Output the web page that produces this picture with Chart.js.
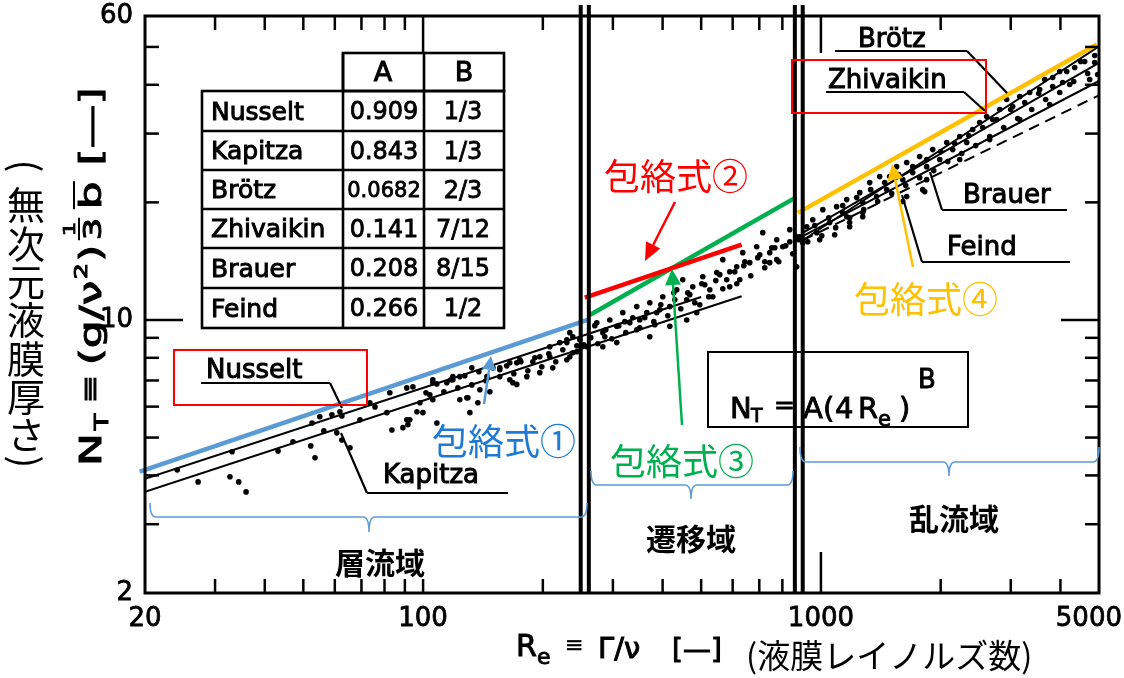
<!DOCTYPE html>
<html lang="ja">
<head>
<meta charset="utf-8">
<title>液膜厚さ相関</title>
<script src="https://cdn.jsdelivr.net/npm/chart.js@4.4.1/dist/chart.umd.min.js"></script>
<style>
html,body{margin:0;padding:0;background:#fff;overflow:hidden;}
#box{width:1124px;height:678px;}
canvas{display:block;}
</style>
</head>
<body>
<div id="box"><canvas id="chart" width="1124" height="678"></canvas></div>
<script>
// ---------------- data ----------------
const xTickLabels = [20, 100, 1000, 5000];
const yTickLabels = [2, 10, 60];
const xShortTicksBottom = [30,40,50,60,70,80,90,100,200,300,400,500,600,700,800,900,2000,3000,4000];
const xShortTicksTop = [30,40,50,60,70,80,90,200,300,400,500,600,700,800,900,2000,3000,4000];
const xLongTicksBottom = [1000];
const xLongTicksTop = [100, 1000];
const yShortTicks = [3,4,5,6,7,8,9,20,30,40,50];
const yLongTicks = [10];
const regionBoundsRe = [249, 261, 860, 900];
const regionNames = ['層流域', '遷移域', '乱流域'];
const envelopeNames = ['包絡式①', '包絡式②', '包絡式③', '包絡式④'];
const tableNames = ['Nusselt', 'Kapitza', 'Brötz', 'Zhivaikin', 'Brauer', 'Feind'];
const tableA = ['0.909', '0.843', '0.0682', '0.141', '0.208', '0.266'];
const tableB = ['1/3', '1/3', '2/3', '7/12', '8/15', '1/2'];

// experimental points
const laminarRe = [24.1,33.1,27.2,32.7,34.4,35.9,43.2,47.1,52.6,52.2,53.5,55.0,56.3,59.0,61.8,62.5,60.7,62.5,65.5,69.4,73.5,75.7,81.1,82.5,83.5,89.0,91.6,96.5,99.9,91.0,94.3,101.7,105.8,105.8,108.3,131.1,128.8,147.2,137.3,92.6,118.8,123.7,155.9,172.0,188.7,208.2,229.8,237.9,165.2,182.3,172.0,129.6,138.9,132.6,144.7,155.9,165.2,175.1,196.5,208.2,220.6,229.8,237.9,168.1,196.5,211.8,229.8,243.4,105.8,114.7,118.8,98.2,91.0,123.7,
  104.0,108.3,112.8,117.5,122.3,127.3,132.6,138.1,143.8,149.8,155.9,162.3,169.1,176.1,183.4,191.0,198.8,207.0,215.5,224.5,233.8,243.5];
const laminarNt = [4.13,4.60,3.85,3.97,3.85,3.63,4.62,4.88,5.45,4.76,4.44,5.65,5.20,5.72,5.82,5.68,5.14,4.93,4.71,5.55,6.14,5.99,5.79,6.51,5.23,5.30,5.39,5.82,5.79,6.70,6.74,6.51,6.25,6.91,5.45,5.79,6.32,6.55,6.14,5.55,7.03,7.16,7.46,7.77,7.82,8.05,8.75,8.24,7.03,7.16,6.84,6.32,6.63,7.54,7.16,7.54,7.77,7.91,8.05,8.54,8.75,8.90,9.06,6.91,7.33,7.54,7.91,8.29,7.03,6.91,7.16,6.14,5.55,6.25,
  6.43,6.86,6.55,7.03,6.70,7.20,6.82,7.37,6.99,7.54,7.16,7.63,7.28,7.82,7.41,8.00,7.59,8.19,7.82,8.39,8.05,8.59];
const transitionRe = [233.8,247.7,273.3,283.0,294.7,306.8,317.7,330.8,344.4,350.5,371.4,386.6,400.4,417.0,434.1,449.5,459.9,476.3,487.3,504.7,525.6,547.2,566.7,579.7,614.2,636.1,662.4,689.6,714.2,743.7,774.2,801.8,835.0,869.2,900.2,534.8,590.0,743.7,344.4,371.4,283.0,257.9,306.8,417.0,459.9,774.2,869.2,270.2,286.3,321.4,360.8,393.5,429.3,468.1,510.6,556.9,607.4,643.6,701.9,765.6,835.0,382.4,496.0,625.2,722.6,
  253.5,264.0,274.9,287.9,298.1,310.5,323.2,336.6,350.5,365.0,380.1,395.8,412.2,426.8,444.4,462.7,481.9,501.8,522.5,544.2,566.7,590.0,614.4,639.9,666.2,693.8,722.5,752.4,783.5,815.8,849.6,879.7];
const transitionNt = [9.28,8.90,9.84,9.28,10.0,9.64,10.44,9.84,10.82,10.0,11.07,10.44,11.47,10.82,11.95,12.68,11.27,12.16,10.44,12.90,11.95,13.22,14.27,12.68,13.69,14.87,14.02,15.40,16.73,14.87,16.05,15.40,17.03,16.33,15.77,11.47,12.16,14.02,9.44,9.06,8.54,8.54,8.75,9.64,10.0,14.27,13.69,9.67,9.06,9.90,10.13,10.62,11.27,11.61,12.31,13.06,13.29,14.10,14.69,15.31,15.86,9.72,10.94,12.68,14.10,
  8.64,9.01,8.69,9.44,8.95,9.67,9.28,10.13,9.55,10.44,9.90,10.94,10.25,11.74,10.68,11.74,11.07,12.38,11.47,12.61,12.02,13.29,12.38,13.77,12.98,14.44,13.61,15.31,14.10,15.49,14.78,16.05];
const turbulentRe = [884.7,921.0,953.8,975.8,1011,1052,1095,1134,1161,1181,1252,1274,1326,1380,1405,1463,1489,1550,1606,1643,1701,1771,1844,1910,1989,2071,2144,2233,2325,2407,2507,2610,2702,2814,2929,3034,3160,3348,3547,3825,4053,1802,1643,1274,1181,1274,1844,3652,3983,4344,4603,4878,4962,4220,4738,1161,1823,1606,993,1083,2233,2656,3160,3759,
  926.6,965.0,1004.9,1046.5,1089.1,1134.5,1181,1229.8,1281.4,1333.7,1388.9,1446.3,1506.4,1568.7,1633.7,1701.3,1771,1844.1,1921.1,2000.5,2083.3,2168.9,2259.1,2352.5,2449.5,2550.9,2656,2765.7,2880.1,2999.3,3123.3,3252.9,3387.2,3527.1,3672.2,3824.8,3983,4147.5,4319.2,4496.9,4682.9,4877.3];
const turbulentNt = [16.33,17.33,18.06,16.73,19.16,17.75,19.50,18.83,20.33,17.75,21.18,18.38,22.47,20.69,23.28,21.56,23.28,24.69,22.87,25.29,23.84,26.20,24.69,27.30,25.74,28.46,27.30,29.47,28.46,30.72,32.02,33.17,32.59,34.57,36.67,35.18,37.32,38.22,38.90,39.59,40.55,21.56,20.69,18.83,17.33,19.98,22.87,41.27,43.26,44.29,45.88,47.54,42.50,40.07,41.27,18.38,21.31,20.09,16.05,16.53,25.74,28.96,32.59,35.60,
  15.86,17.44,16.43,18.27,17.23,19.62,18.27,20.57,19.16,21.56,20.09,22.47,21.06,23.56,22.08,24.69,23.14,25.74,24.12,26.98,25.44,28.28,26.66,29.65,27.95,31.09,29.48,32.59,31.09,34.57,32.78,36.03,34.57,37.99,36.67,41.76,38.22,43.26,40.78,45.88,42.75,45.62];

// correlation lines (end points)
const nusseltRe = [20, 500],     nusseltNt = [3.92, 11.45];
const kapitzaRe = [20, 632],     kapitzaNt = [3.63, 11.5];
const brotzRe = [900, 5000],     brotzNt = [16.0, 50.2];
const zhivaikinRe = [900, 5000], zhivaikinNt = [16.7, 45.5];
const brauerRe = [900, 5000],    brauerNt = [16.4, 40.9];
const feindRe = [900, 5000],     feindNt = [16.0, 37.6];

// envelope lines (end points)
const env1Re = [19.4, 259],  env1Nt = [4.09, 10.0];
const env2Re = [255, 632],   env2Nt = [11.4, 15.6];
const env3Re = [262.5, 865], env3Nt = [10.3, 20.6];
const env4Re = [875, 4934],  env4Nt = [18.8, 50.7];

// ---------------- helpers ----------------
const pts = (re, nt) => re.map((v, i) => ({x: v, y: nt[i]}));
const envColors = ['#5B9BD5', '#FF0000', '#00B050', '#FFC000'];
const LATIN = '"DejaVu Sans", "Liberation Sans", sans-serif';
const CJK = '"Noto Sans CJK JP", "Noto Sans CJK SC", sans-serif';

function seg(ctx, x1, y1, x2, y2) { ctx.beginPath(); ctx.moveTo(x1, y1); ctx.lineTo(x2, y2); ctx.stroke(); }
function btext(ctx, t, x, y, sw) { // fill + thin stroke for the heavier lettering of the original
  ctx.fillText(t, x, y);
  ctx.save(); ctx.lineWidth = sw === undefined ? 0.9 : sw; ctx.strokeStyle = ctx.fillStyle; ctx.strokeText(t, x, y); ctx.restore();
}
function arrow(ctx, x1, y1, x2, y2, color, w, head, hw) {
  ctx.strokeStyle = color; ctx.fillStyle = color; ctx.lineWidth = w;
  const ang = Math.atan2(y2 - y1, x2 - x1);
  const bx = x2 - head * Math.cos(ang), by = y2 - head * Math.sin(ang);
  seg(ctx, x1, y1, bx, by);
  const px = Math.cos(ang + Math.PI / 2), py = Math.sin(ang + Math.PI / 2);
  ctx.beginPath(); ctx.moveTo(x2, y2);
  ctx.lineTo(bx + hw * px, by + hw * py); ctx.lineTo(bx - hw * px, by - hw * py);
  ctx.closePath(); ctx.fill();
}
function brace(ctx, x1, x2, yl, tipX, tipY, endY) {
  const r = 6;
  ctx.beginPath();
  ctx.moveTo(x1, endY);
  ctx.quadraticCurveTo(x1, yl, x1 + r, yl);
  ctx.lineTo(tipX - r, yl);
  ctx.quadraticCurveTo(tipX, yl, tipX, tipY);
  ctx.quadraticCurveTo(tipX, yl, tipX + r, yl);
  ctx.lineTo(x2 - r, yl);
  ctx.quadraticCurveTo(x2, yl, x2, endY);
  ctx.stroke();
}
function label(ctx, text, tx, ty, ux1, ux2, uy, lx, ly) {
  ctx.fillStyle = '#000'; ctx.font = '26px ' + LATIN; ctx.textAlign = 'left'; ctx.textBaseline = 'alphabetic';
  btext(ctx, text, tx, ty, 1);
  ctx.strokeStyle = '#000'; ctx.lineWidth = 2.2;
  seg(ctx, ux1, uy, ux2, uy);
  const sx = (lx < ux1 + (ux2 - ux1) / 2) ? ux1 : ux2;
  seg(ctx, sx, uy, lx, ly);
}

const overlay = {
  id: 'overlay',
  afterDraw(chart) {
    const ctx = chart.ctx, a = chart.chartArea, xs = chart.scales.x, ys = chart.scales.y;
    const X = v => xs.getPixelForValue(v), Y = v => ys.getPixelForValue(v);
    ctx.save();
    ctx.lineCap = 'butt';
    // region boundary double lines
    ctx.strokeStyle = '#000'; ctx.lineWidth = 4;
    regionBoundsRe.forEach(v => { const px = X(v); seg(ctx, px, a.top - 11, px, a.bottom); });
    // frame
    ctx.lineWidth = 3;
    ctx.strokeRect(a.left, a.top, a.right - a.left, a.bottom - a.top);
    // tick marks (inward)
    ctx.lineWidth = 2.5;
    const S = 14, LG = 38;
    xShortTicksBottom.forEach(v => seg(ctx, X(v), a.bottom, X(v), a.bottom - S));
    xShortTicksTop.forEach(v => seg(ctx, X(v), a.top, X(v), a.top + S));
    xLongTicksBottom.forEach(v => seg(ctx, X(v), a.bottom, X(v), a.bottom - LG - 3));
    xLongTicksTop.forEach(v => seg(ctx, X(v), a.top, X(v), a.top + LG - 1));
    yShortTicks.forEach(v => { seg(ctx, a.left, Y(v), a.left + S, Y(v)); seg(ctx, a.right, Y(v), a.right - S, Y(v)); });
    yLongTicks.forEach(v => { seg(ctx, a.left, Y(v), a.left + LG, Y(v)); seg(ctx, a.right, Y(v), a.right - LG, Y(v)); });

    // x tick labels (kept inside the canvas at the right end)
    ctx.fillStyle = '#000'; ctx.font = '26px ' + LATIN; ctx.textAlign = 'left'; ctx.textBaseline = 'alphabetic';
    xTickLabels.forEach(v => {
      const t = String(v), w = ctx.measureText(t).width;
      const left = Math.min(X(v) - w / 2, chart.width - w - 2);
      btext(ctx, t, left, 626, 0.8);
    });

    // ---- coefficient table ----
    const cols = [202, 343, 424, 504];
    const rows = [53, 91, 131, 170, 209, 248, 288, 328];
    ctx.lineWidth = 2.6; ctx.strokeStyle = '#000';
    ctx.strokeRect(cols[1], rows[0], cols[3] - cols[1], rows[1] - rows[0]);
    ctx.strokeRect(cols[0], rows[1], cols[3] - cols[0], rows[7] - rows[1]);
    for (let i = 2; i < 7; i++) seg(ctx, cols[0], rows[i], cols[3], rows[i]);
    seg(ctx, cols[1], rows[0], cols[1], rows[7]);
    seg(ctx, cols[2], rows[0], cols[2], rows[7]);
    ctx.fillStyle = '#000'; ctx.textBaseline = 'middle';
    ctx.font = '27px ' + LATIN; ctx.textAlign = 'center';
    btext(ctx, 'A', 383, 74, 1); btext(ctx, 'B', 464, 74, 1);
    tableNames.forEach((n, i) => {
      const cy = (rows[i + 1] + rows[i + 2]) / 2 + 2;
      ctx.textAlign = 'left'; ctx.font = '25px ' + LATIN; btext(ctx, n, 211, cy, 1);
      ctx.textAlign = 'center';
      ctx.font = (tableA[i].length > 5 ? '21px ' : '24px ') + LATIN; btext(ctx, tableA[i], 384, cy, 0.8);
      ctx.font = '24px ' + LATIN; btext(ctx, tableB[i], 463, cy, 0.8);
    });

    // ---- correlation labels ----
    label(ctx, 'Nusselt', 206, 378, 201, 330, 383, 342, 408);
    label(ctx, 'Kapitza', 383, 483, 367, 508, 493, 341, 433);
    label(ctx, 'Brötz', 858, 47, 835, 967, 51, 1007, 93);
    label(ctx, 'Zhivaikin', 828, 88, 826, 964, 92, 985, 111);
    label(ctx, 'Brauer', 963, 203, 942, 1067, 210, 930, 172);
    label(ctx, 'Feind', 947, 255, 922, 1070, 262, 902, 195);
    // red highlight boxes
    ctx.strokeStyle = '#FF0000'; ctx.lineWidth = 2;
    ctx.strokeRect(174, 350, 193, 55);
    ctx.strokeRect(792, 60, 194, 53);

    // ---- formula box ----
    ctx.strokeStyle = '#000'; ctx.lineWidth = 2;
    ctx.strokeRect(708, 352, 260, 75);
    ctx.fillStyle = '#000'; ctx.textAlign = 'left'; ctx.textBaseline = 'alphabetic';
    const f = (t, s, x, y, sw) => { ctx.font = s + 'px ' + LATIN; btext(ctx, t, x, y, sw === undefined ? 0.9 : sw); };
    f('N', 29, 730, 418); f('T', 19, 751, 422); f('=', 25, 774, 413);
    f('A', 29, 803, 418); f('(', 29, 823, 418); f('4', 29, 835, 418); f('R', 29, 858, 418);
    f('e', 21, 878, 426); f(')', 29, 899, 418); f('B', 26, 918, 388);

    // ---- envelope labels and arrows ----
    ctx.font = '36px ' + CJK; ctx.textAlign = 'center'; ctx.textBaseline = 'middle';
    const envLabelPos = [[504, 441], [676, 176], [682, 461], [926, 299]];
    const envTextColors = ['#1E7AD2', '#FF0000', '#00B050', '#FFC000'];
    envelopeNames.forEach((t, i) => { ctx.fillStyle = envTextColors[i]; ctx.fillText(t, envLabelPos[i][0], envLabelPos[i][1]); });
    arrow(ctx, 484, 404, 491, 356, envColors[0], 2.5, 14, 7);
    arrow(ctx, 675, 202, 645, 261, envColors[1], 2.5, 18, 8);
    arrow(ctx, 682, 425, 672, 269, envColors[2], 2.5, 16, 8);
    arrow(ctx, 913, 267, 892, 164, envColors[3], 2.5, 16, 8);

    // ---- region braces and names ----
    ctx.strokeStyle = '#5B9BD5'; ctx.lineWidth = 1.6;
    brace(ctx, 150, 587, 517, 369, 532, 503);
    brace(ctx, 591, 793, 485, 691, 499, 471);
    brace(ctx, 800, 1099, 462, 949, 476, 447);
    ctx.fillStyle = '#000'; ctx.font = 'bold 30px ' + CJK; ctx.textAlign = 'center'; ctx.textBaseline = 'middle';
    const regionPos = [[380, 563], [691, 539], [954, 519]];
    regionNames.forEach((t, i) => ctx.fillText(t, regionPos[i][0], regionPos[i][1]));

    // ---- x axis title ----
    ctx.textAlign = 'left'; ctx.textBaseline = 'alphabetic'; ctx.fillStyle = '#000';
    f('R', 30, 516, 656, 1); f('e', 22, 537, 664, 0.9); f('≡', 22, 565, 652, 0.6);
    f('Γ/ν', 29, 598, 658, 1); f('[—]', 28, 672, 659, 1);
    ctx.font = '33px ' + CJK; ctx.fillText('(液膜レイノルズ数)', 746, 668);

    // ---- y axis title (rotated formula) ----
    ctx.save();
    ctx.translate(101, 466); ctx.rotate(-Math.PI / 2); ctx.scale(1.42, 1);
    ctx.textAlign = 'left'; ctx.textBaseline = 'alphabetic'; ctx.fillStyle = '#000'; ctx.strokeStyle = '#000';
    let cx = 0;
    const run = (t, s, dy, gap) => { ctx.font = s + 'px ' + LATIN; btext(ctx, t, cx, dy, 1); const w = ctx.measureText(t).width; cx += w + gap; return w; };
    run('N', 31, 0, 2);
    run('T', 19, 7, 7);
    run('≡', 24, -3, 7);
    run('(g/ν', 31, 0, 1);
    run('2', 18, -14, 1);
    run(')', 31, 0, 3);
    ctx.font = '25px ' + LATIN; const w3 = ctx.measureText('3').width; btext(ctx, '3', cx, 0, 1);
    ctx.font = '16px ' + LATIN; const w1 = ctx.measureText('1').width; btext(ctx, '1', cx + (w3 - w1) / 2, -26, 0.8);
    ctx.lineWidth = 2; seg(ctx, cx, -22, cx + w3, -22);
    cx += w3 + 6;
    const bx = cx; const wb = run('b', 31, 0, 11); ctx.lineWidth = 2; seg(ctx, bx, -27, bx + wb, -27);
    run('[—]', 31, 0, 0);
    ctx.restore();

    // ---- y axis title (vertical Japanese) ----
    ctx.font = '38px ' + CJK; ctx.textAlign = 'center'; ctx.textBaseline = 'middle'; ctx.fillStyle = '#000';
    const vchars = ['無', '次', '元', '液', '膜', '厚', 'さ'];
    vchars.forEach((c, i) => ctx.fillText(c, 26, 205 + i * 38.3));
    [['(', 166], [')', 462]].forEach(([c, yy]) => {
      ctx.save(); ctx.translate(26, yy); ctx.rotate(Math.PI / 2); ctx.fillText(c, 0, 0); ctx.restore();
    });
    ctx.restore();
  }
};

const lineDs = (label, re, nt, color, width, extra) => Object.assign({
  type: 'line', label, data: pts(re, nt), borderColor: color, borderWidth: width,
  pointRadius: 0, fill: false, tension: 0
}, extra || {});
const dotDs = (label, re, nt) => ({
  type: 'scatter', label, data: pts(re, nt), backgroundColor: '#000', borderWidth: 0,
  pointRadius: 2.8, pointHoverRadius: 2.8, order: 3
});

new Chart(document.getElementById('chart'), {
  type: 'scatter',
  data: {
    datasets: [
      lineDs(envelopeNames[0], env1Re, env1Nt, envColors[0], 4.5, {order: 0, clip: false}),
      lineDs(envelopeNames[1], env2Re, env2Nt, envColors[1], 4.5, {order: 0}),
      lineDs(envelopeNames[2], env3Re, env3Nt, envColors[2], 4.5, {order: 0}),
      lineDs(envelopeNames[3], env4Re, env4Nt, envColors[3], 4.5, {order: 0}),
      lineDs('Nusselt', nusseltRe, nusseltNt, '#000', 2, {order: 2}),
      lineDs('Kapitza', kapitzaRe, kapitzaNt, '#000', 2, {order: 2}),
      lineDs('Brötz', brotzRe, brotzNt, '#000', 2, {order: 2}),
      lineDs('Zhivaikin', zhivaikinRe, zhivaikinNt, '#000', 2, {order: 2}),
      lineDs('Brauer', brauerRe, brauerNt, '#000', 2, {order: 2}),
      lineDs('Feind', feindRe, feindNt, '#000', 2, {order: 2, borderDash: [11, 7]}),
      dotDs('層流域データ', laminarRe, laminarNt),
      dotDs('遷移域データ', transitionRe, transitionNt),
      dotDs('乱流域データ', turbulentRe, turbulentNt)
    ]
  },
  options: {
    responsive: false,
    animation: false,
    devicePixelRatio: 1,
    layout: {padding: {left: 0, right: 25, top: 16, bottom: 0}},
    plugins: {legend: {display: false}, tooltip: {enabled: false}},
    scales: {
      x: {
        type: 'logarithmic', min: 20, max: 5000, position: 'bottom',
        grid: {display: false}, border: {display: false},
        ticks: {display: false, autoSkip: false, maxRotation: 0, minRotation: 0, callback: v => String(v)},
        afterBuildTicks: s => { s.ticks = xTickLabels.map(v => ({value: v})); },
        afterFit: s => { s.height = 85; s.paddingLeft = 0; s.paddingRight = 0; }
      },
      y: {
        type: 'logarithmic', min: 2, max: 60, position: 'left',
        grid: {display: false}, border: {display: false},
        ticks: {color: '#000', font: {family: 'DejaVu Sans', size: 26}, padding: 4,
          textStrokeColor: '#000', textStrokeWidth: 0.8,
          autoSkip: false, callback: v => String(v)},
        afterBuildTicks: s => { s.ticks = yTickLabels.map(v => ({value: v})); },
        afterFit: s => { s.width = 145; s.paddingTop = 0; s.paddingBottom = 0; }
      }
    }
  },
  plugins: [overlay]
});
</script>
</body>
</html>
